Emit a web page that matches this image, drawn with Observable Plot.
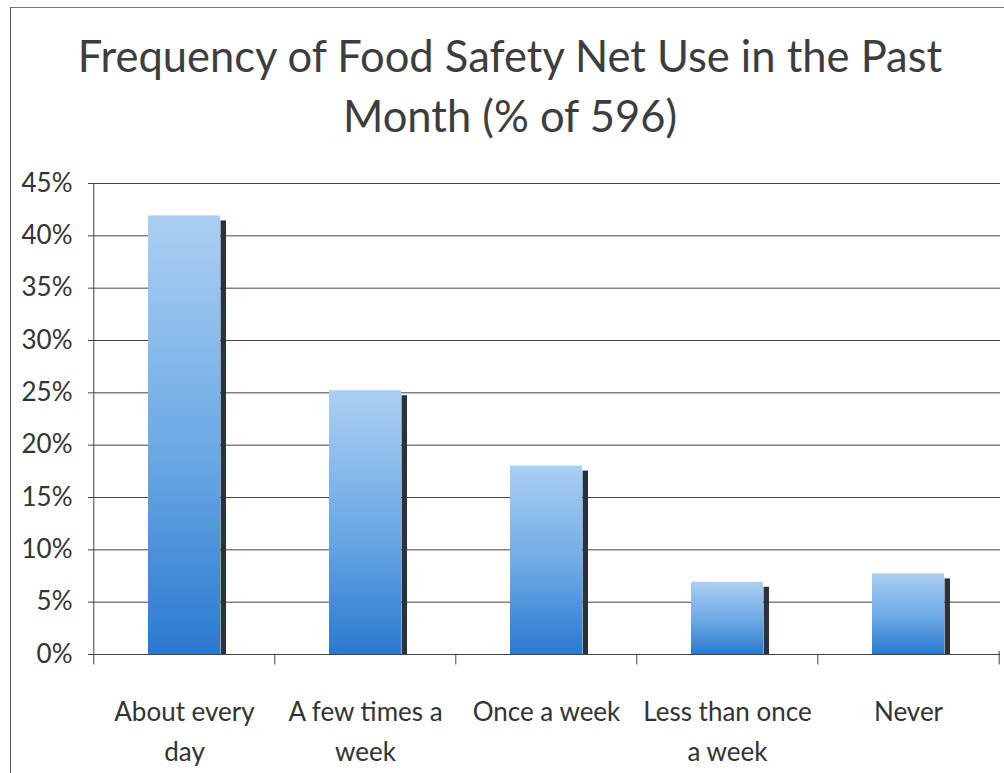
<!DOCTYPE html>
<html>
<head>
<meta charset="utf-8">
<script src="https://cdn.jsdelivr.net/npm/d3@7"></script>
<script src="https://cdn.jsdelivr.net/npm/@observablehq/plot@0.6"></script>
<style>
  html, body { margin: 0; padding: 0; background: #fff; }
  #chart { position: relative; width: 1004px; height: 773px; overflow: hidden; font-family: Lato, "Open Sans", sans-serif; }
  #border { position: absolute; left: 10px; top: 7px; width: 1100px; height: 900px;
            border-left: 1.5px solid #555; border-top: 1.5px solid #777; }
  #title { position: relative; box-sizing: border-box; width: 1004px; height: 160px;
           padding: 25px 0 0 16px; text-align: center; font-size: 43.5px; line-height: 60px;
           color: #3d3d3d; }
  svg { display: block; }
</style>
</head>
<body>
<div id="chart">
  <div id="border"></div>
  <div id="title">Frequency of Food Safety Net Use in the Past<br>Month (% of 596)</div>
</div>
<script>
// Survey answers and their share of respondents (percent)
const categories = ["About every day", "A few times a week", "Once a week", "Less than once a week", "Never"];
const tickLabels = ["About every\nday", "A few times a\nweek", "Once a week", "Less than once\na week", "Never"];
const shares = [41.9, 25.2, 18.0, 6.9, 7.7];
const yTicks = [0, 5, 10, 15, 20, 25, 30, 35, 40, 45];

const data = categories.map((c, i) => ({category: c, label: tickLabels[i], share: shares[i]}));

const width = 1004, height = 613;
const marginLeft = 93, marginRight = 4, marginTop = 23, marginBottom = 119;
const step = (width - marginLeft - marginRight) / categories.length;
const barWidth = step * 0.4;
const shadowWidth = 6;

// vertical light-to-deep blue fill for the bars
const gradient = () => {
  const defs = d3.create("svg:defs");
  const lg = defs.append("linearGradient")
    .attr("id", "barFill").attr("x1", 0).attr("y1", 0).attr("x2", 0).attr("y2", 1);
  lg.append("stop").attr("offset", "0%").attr("stop-color", "#abcff3");
  lg.append("stop").attr("offset", "55%").attr("stop-color", "#6aa8e4");
  lg.append("stop").attr("offset", "100%").attr("stop-color", "#2a79cf");
  return defs.node();
};

const first = [categories[0]];
const last = [categories[categories.length - 1]];

const chart = Plot.plot({
  width, height, marginLeft, marginRight, marginTop, marginBottom,
  style: {fontFamily: "Lato, 'Open Sans', sans-serif", background: "transparent"},
  x: {type: "band", domain: categories, paddingInner: 0.6, paddingOuter: 0.3, axis: null},
  y: {domain: [0, 45], axis: null},
  marks: [
    gradient,
    // horizontal gridlines
    Plot.ruleY(yTicks, {stroke: "#444", strokeWidth: 1}),
    // left axis line
    Plot.ruleX(first, {x: d => d, dx: -step / 2, y1: 45, y2: 0, stroke: "#444"}),
    // category boundary ticks below the baseline
    Plot.ruleX(categories, {x: d => d, dx: -step / 2, y1: 0, y2: -1, stroke: "#444"}),
    Plot.ruleX(last, {x: d => d, dx: step / 2, y1: 0.3, y2: -1, stroke: "#444"}),
    // dark side shadow of each bar
    Plot.barY(data, {x: "category", y: "share", insetTop: 5, insetLeft: barWidth - shadowWidth,
                     dx: shadowWidth, fill: "#28333f"}),
    Plot.barY(data, {x: "category", y: "share", fill: "url(#barFill)"}),
    Plot.axisY(yTicks, {label: null, tickSize: 5, tickPadding: 16, fontSize: 26, stroke: "#444",
                        color: "#333", tickFormat: d => d + "%"}),
    Plot.text(data, {x: "category", y: 0, text: "label", dy: 38, lineAnchor: "top",
                     lineHeight: 1.55, fontSize: 26, fill: "#333"})
  ]
});

document.getElementById("chart").appendChild(chart);
</script>
</body>
</html>
